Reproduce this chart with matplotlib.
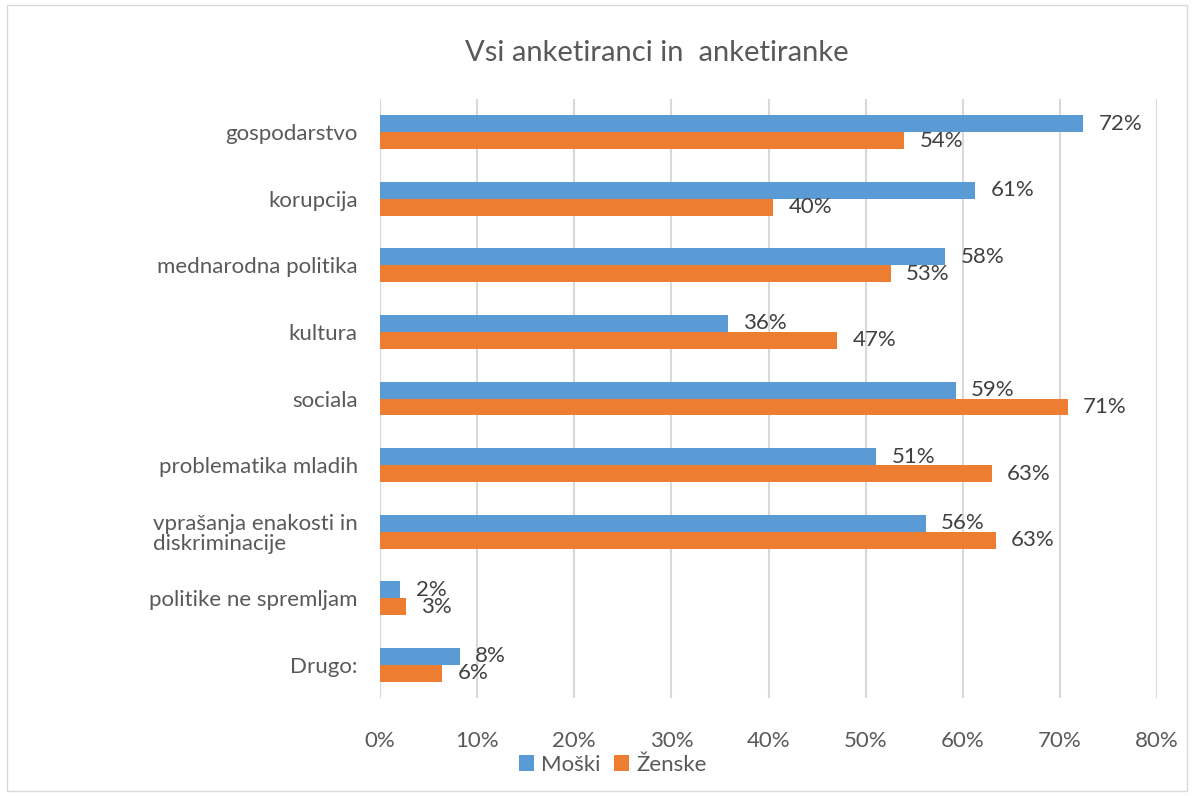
import numpy as np
import matplotlib.pyplot as plt
from matplotlib.patches import Rectangle

categories = ["gospodarstvo", "korupcija", "mednarodna politika", "kultura", "sociala",
              "problematika mladih", "vprašanja enakosti in\ndiskriminacije",
              "politike ne spremljam", "Drugo:"]
moski = [72.4, 61.3, 58.2, 35.8, 59.3, 51.1, 56.2, 2.1, 8.2]
zenske = [54.0, 40.5, 52.6, 47.1, 70.8, 63.0, 63.4, 2.7, 6.4]
moski_labels = ["72%", "61%", "58%", "36%", "59%", "51%", "56%", "2%", "8%"]
zenske_labels = ["54%", "40%", "53%", "47%", "71%", "63%", "63%", "3%", "6%"]
xticks = [0, 10, 20, 30, 40, 50, 60, 70, 80]

text_col = "#595959"
blue = "#5B9BD5"
orange = "#ED7D31"
plt.rcParams['font.family'] = ['Lato', 'DejaVu Sans']

fig = plt.figure(figsize=(11.94, 7.96), dpi=100)
fig.patches.append(Rectangle((0.006, 0.006), 0.988, 0.988, transform=fig.transFigure,
                             fill=False, edgecolor="#D9D9D9", linewidth=1))
ax = fig.add_axes([380 / 1194, 1 - 698 / 796, 777 / 1194, 599 / 796])

y = np.arange(len(categories))
h = 0.255
b1 = ax.barh(y - h / 2, moski, height=h, color=blue, label="Moški", zorder=3)
b2 = ax.barh(y + h / 2, zenske, height=h, color=orange, label="Ženske", zorder=3)

for bars, labs in [(b1, moski_labels), (b2, zenske_labels)]:
    for bar, lab in zip(bars, labs):
        ax.annotate(lab, (bar.get_width(), bar.get_y() + bar.get_height() / 2),
                    xytext=(11, 0), textcoords="offset points", ha="left", va="center",
                    fontsize=16, color="#404040")

ax.set_xlim(0, 80)
ax.set_ylim(len(categories) - 0.5, -0.5)
ax.set_xticks(xticks)
ax.set_xticklabels([f"{t}%" for t in xticks])
ax.set_yticks(y)
ax.set_yticklabels(categories, multialignment="left", linespacing=1.05)
ax.tick_params(axis="both", length=0, colors=text_col, labelsize=16)
ax.tick_params(axis="x", pad=24)
ax.tick_params(axis="y", pad=16)
for s in ax.spines.values():
    s.set_visible(False)
ax.grid(axis="x", color="#D9D9D9", linewidth=1.5, zorder=0)

fig.text(657 / 1194, 1 - 53 / 796, "Vsi anketiranci in  anketiranke", ha="center", va="center",
         fontsize=21, color=text_col)

fig.legend(handles=[b1, b2], loc="center", bbox_to_anchor=(0.513, 1 - 765 / 796), ncol=2,
           frameon=False, fontsize=16, labelcolor=text_col, handlelength=0.7,
           handleheight=0.7, handletextpad=0.3, columnspacing=0.6)

fig.savefig("out.png", dpi=100)
